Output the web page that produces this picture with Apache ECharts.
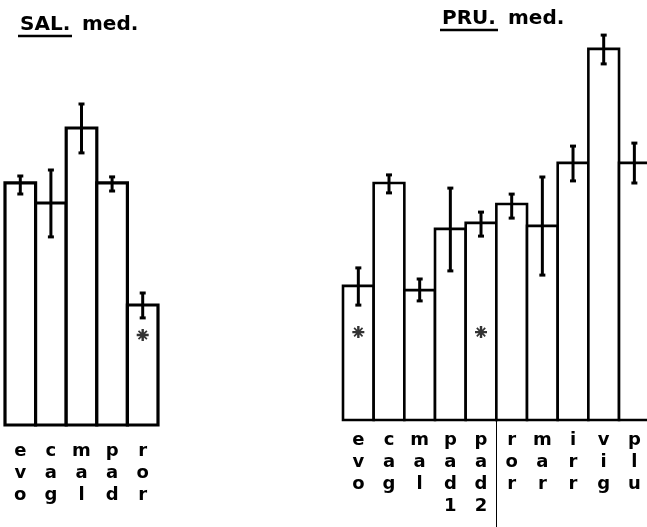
<!DOCTYPE html>
<html>
<head>
<meta charset="utf-8">
<script src="https://cdn.jsdelivr.net/npm/echarts@6.0.0/dist/echarts.min.js"></script>
<style>
  html, body { margin: 0; padding: 0; background: #fff; }
  #c { width: 647px; height: 527px; }
</style>
</head>
<body>
<div id="c"></div>
<script>
// SAL. med. — group means with spread (relative units)
const salCats = ['evo', 'cag', 'mal', 'pad', 'ror'];
const salMean = [80.7, 74.0, 99.0, 80.7, 40.0];
const salLow  = [77.0, 62.7, 90.7, 78.0, 35.7];
const salHigh = [83.0, 85.0, 107.0, 82.7, 44.0];
const salStar = [null, null, null, null, 30.0];

// PRU. med.
const pruCats = ['evo', 'cag', 'mal', 'pad1', 'pad2', 'ror', 'mar', 'irr', 'vig', 'plu'];
const pruMean = [44.7, 79.0, 43.3, 63.7, 65.7, 72.0, 64.7, 85.7, 123.7, 85.7];
const pruLow  = [38.3, 75.7, 39.7, 49.7, 61.3, 67.3, 48.3, 79.7, 118.7, 79.0];
const pruHigh = [50.7, 81.7, 47.0, 77.3, 69.3, 75.3, 81.0, 91.3, 128.3, 92.3];
const pruStar = [29.3, null, null, null, 29.3, null, null, null, null, null];

const INK = '#000';
const FONT = 'DejaVu Sans';
const starPath = 'path://M4,0h2v3l2-2 1,1-2,2h3v2h-3l2,2-1,1-2-2v3h-2v-3l-2,2-1-1 2-2h-3v-2h3l-2-2 1-1 2,2z';

function stackChars(name) { return name.split('').join('\n'); }

// Open outlined bars that share their edges with the neighbours
function outlineBars(lineWidth) {
  return function (params, api) {
    const i = api.value(0);
    const top = api.coord([i, api.value(1)]);
    const base = api.coord([i, 0]);
    const w = api.size([1, 0])[0];
    return {
      type: 'rect',
      shape: { x: top[0] - w / 2, y: top[1], width: w, height: base[1] - top[1] },
      style: { fill: '#fff', stroke: INK, lineWidth: lineWidth }
    };
  };
}

function errorBars(params, api) {
  const i = api.value(0);
  const lo = api.coord([i, api.value(1)]);
  const hi = api.coord([i, api.value(2)]);
  const cap = 3;
  const st = { stroke: INK, lineWidth: 3 };
  return {
    type: 'group',
    children: [
      { type: 'line', shape: { x1: lo[0], y1: lo[1], x2: hi[0], y2: hi[1] }, style: st },
      { type: 'line', shape: { x1: lo[0] - cap, y1: lo[1], x2: lo[0] + cap, y2: lo[1] }, style: st },
      { type: 'line', shape: { x1: hi[0] - cap, y1: hi[1], x2: hi[0] + cap, y2: hi[1] }, style: st }
    ]
  };
}

function starData(arr) {
  const out = [];
  arr.forEach((v, i) => { if (v != null) out.push([i, v]); });
  return out;
}

const chart = echarts.init(document.getElementById('c'), null, { renderer: 'canvas' });

const axisLabelBase = {
  interval: 0,
  formatter: stackChars,
  color: INK,
  fontFamily: FONT,
  fontWeight: 'bold',
  fontSize: 18,
  lineHeight: 22,
  verticalAlign: 'top'
};

chart.setOption({
  animation: false,
  backgroundColor: '#fff',
  grid: [
    { left: 5, width: 153, top: 95, height: 330, outerBoundsMode: 'none', containLabel: false },
    { left: 343, width: 306.7, top: 30, height: 390, outerBoundsMode: 'none', containLabel: false }
  ],
  xAxis: [
    { type: 'category', gridIndex: 0, data: salCats, axisLine: { show: false }, axisTick: { show: false },
      axisLabel: Object.assign({}, axisLabelBase, { margin: 15 }) },
    { type: 'category', gridIndex: 1, data: pruCats, axisLine: { show: false }, axisTick: { show: false },
      axisLabel: Object.assign({}, axisLabelBase, { margin: 9 }) }
  ],
  yAxis: [
    { type: 'value', gridIndex: 0, min: 0, max: 110, show: false },
    { type: 'value', gridIndex: 1, min: 0, max: 130, show: false }
  ],
  series: [
    { type: 'custom', xAxisIndex: 0, yAxisIndex: 0, renderItem: outlineBars(3.2), z: 2,
      data: salMean.map((v, i) => [i, v]) },
    { type: 'custom', xAxisIndex: 1, yAxisIndex: 1, renderItem: outlineBars(2.6), z: 2,
      data: pruMean.map((v, i) => [i, v]) },
    { type: 'custom', xAxisIndex: 0, yAxisIndex: 0, renderItem: errorBars, z: 5,
      data: salCats.map((c, i) => [i, salLow[i], salHigh[i]]) },
    { type: 'custom', xAxisIndex: 1, yAxisIndex: 1, renderItem: errorBars, z: 5,
      data: pruCats.map((c, i) => [i, pruLow[i], pruHigh[i]]) },
    { type: 'scatter', xAxisIndex: 0, yAxisIndex: 0, symbol: starPath, symbolSize: 12, z: 6,
      itemStyle: { color: INK }, data: starData(salStar) },
    { type: 'scatter', xAxisIndex: 1, yAxisIndex: 1, symbol: starPath, symbolSize: 12, z: 6,
      itemStyle: { color: INK }, data: starData(pruStar) }
  ]
});

// Panel titles, underlined species names, and the divider between pad2 and ror
const xa = chart.convertToPixel({ xAxisIndex: 1 }, 4);
const xb = chart.convertToPixel({ xAxisIndex: 1 }, 5);
const divX = Math.round((xa + xb) / 2) + 0.5;
const baseY = chart.convertToPixel({ yAxisIndex: 1 }, 0);

const titleFont = 'bold 20px "DejaVu Sans"';
chart.setOption({
  graphic: [
    { type: 'text', left: 20, top: 15, style: { text: 'SAL.', font: titleFont, fill: INK } },
    { type: 'text', left: 82, top: 15, style: { text: 'med.', font: titleFont, fill: INK } },
    { type: 'line', shape: { x1: 18, y1: 36, x2: 72, y2: 36 }, style: { stroke: INK, lineWidth: 2.5 } },
    { type: 'text', left: 442, top: 9, style: { text: 'PRU.', font: titleFont, fill: INK } },
    { type: 'text', left: 508, top: 9, style: { text: 'med.', font: titleFont, fill: INK } },
    { type: 'line', shape: { x1: 440, y1: 30, x2: 498, y2: 30 }, style: { stroke: INK, lineWidth: 2.5 } },
    { type: 'line', shape: { x1: divX, y1: 360, x2: divX, y2: baseY }, style: { stroke: INK, lineWidth: 1, lineDash: [2, 10] } },
    { type: 'line', shape: { x1: divX, y1: baseY, x2: divX, y2: 527 }, style: { stroke: INK, lineWidth: 1 } }
  ]
});
</script>
</body>
</html>
